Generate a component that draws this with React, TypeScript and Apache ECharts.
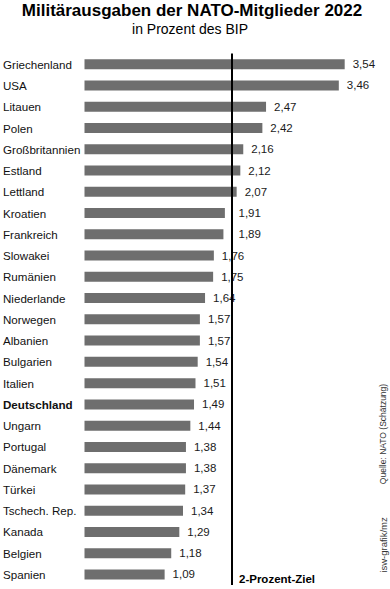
import React, { useEffect, useRef } from "react";
import * as echarts from "echarts";

const countries = [
  "Griechenland", "USA", "Litauen", "Polen", "Großbritannien", "Estland", "Lettland",
  "Kroatien", "Frankreich", "Slowakei", "Rumänien", "Niederlande", "Norwegen", "Albanien",
  "Bulgarien", "Italien", "Deutschland", "Ungarn", "Portugal", "Dänemark", "Türkei",
  "Tschech. Rep.", "Kanada", "Belgien", "Spanien",
];
const values = [
  3.54, 3.46, 2.47, 2.42, 2.16, 2.12, 2.07, 1.91, 1.89, 1.76, 1.75, 1.64, 1.57, 1.57,
  1.54, 1.51, 1.49, 1.44, 1.38, 1.38, 1.37, 1.34, 1.29, 1.18, 1.09,
];
const highlighted = "Deutschland";
const targetValue = 2;
const titleText = "Militärausgaben der NATO-Mitglieder 2022";
const subtitleText = "in Prozent des BIP";
const targetLabel = "2-Prozent-Ziel";
const sourceText = "Quelle: NATO (Schätzung)";
const creditText = "isw-grafik/mz";

const FONT = "Liberation Sans, Arial, sans-serif";
const GRID_LEFT = 83.5;
const GRID_RIGHT = 11.5;
const X_MAX = 4;
const PX_PER_UNIT = (390 - GRID_LEFT - GRID_RIGHT) / X_MAX;

export default function App() {
  const ref = useRef<HTMLDivElement>(null);
  useEffect(() => {
    if (!ref.current) return;
    const chart = echarts.init(ref.current, undefined, { renderer: "svg" });
    // labels just below the target line are pushed past it, as in the original
    const barData = values.map((v) => {
      if (v > 1.85 && v < targetValue) {
        return { value: v, label: { distance: (targetValue - v) * PX_PER_UNIT + 7 } };
      }
      return v;
    });
    chart.setOption({
      animation: false,
      backgroundColor: "#ffffff",
      textStyle: { fontFamily: FONT },
      grid: { left: GRID_LEFT, right: GRID_RIGHT, top: 53.6, bottom: 3.9, containLabel: false },
      xAxis: {
        type: "value",
        min: 0,
        max: X_MAX,
        show: false,
      },
      yAxis: {
        type: "category",
        inverse: true,
        data: countries,
        axisLine: { show: false },
        axisTick: { show: false },
        splitLine: { show: false },
        axisLabel: {
          align: "left",
          margin: 81.5,
          fontSize: 11.6,
          color: "#111",
          fontFamily: FONT,
          formatter: (v: string) => (v === highlighted ? `{b|${v}}` : v),
          rich: {
            b: { fontWeight: "bold", fontSize: 11.6, color: "#111", fontFamily: FONT },
          },
        },
      },
      series: [
        {
          type: "bar",
          data: barData,
          barWidth: 10,
          itemStyle: { color: "#6e6e6e" },
          label: {
            show: true,
            position: "right",
            distance: 8,
            fontSize: 11.5,
            color: "#1a1a1a",
            fontFamily: FONT,
            formatter: (p: any) => Number(p.value).toFixed(2).replace(".", ","),
          },
          markLine: {
            silent: true,
            symbol: "none",
            label: { show: false },
            lineStyle: { color: "#000", width: 2, type: "solid" },
            data: [{ xAxis: targetValue }],
          },
        },
      ],
      graphic: [
        {
          type: "text",
          x: 192,
          y: 10,
          style: {
            text: titleText,
            fontSize: 17,
            fontWeight: "bold",
            fontFamily: FONT,
            fill: "#000",
            textAlign: "center",
            textVerticalAlign: "middle",
          },
        },
        {
          type: "text",
          x: 190,
          y: 28.5,
          style: {
            text: subtitleText,
            fontSize: 14,
            fontFamily: FONT,
            fill: "#000",
            textAlign: "center",
            textVerticalAlign: "middle",
          },
        },
        {
          type: "text",
          x: 239,
          y: 579,
          style: {
            text: targetLabel,
            fontSize: 11.5,
            fontWeight: "bold",
            fontFamily: FONT,
            fill: "#000",
            textAlign: "left",
            textVerticalAlign: "middle",
          },
        },
        {
          type: "text",
          x: 383,
          y: 434,
          rotation: Math.PI / 2,
          style: {
            text: sourceText,
            fontSize: 8.5,
            fontFamily: FONT,
            fill: "#333",
            textAlign: "center",
            textVerticalAlign: "middle",
          },
        },
        {
          type: "text",
          x: 383,
          y: 545,
          rotation: Math.PI / 2,
          style: {
            text: creditText,
            fontSize: 9.5,
            fontFamily: FONT,
            fill: "#333",
            textAlign: "center",
            textVerticalAlign: "middle",
          },
        },
      ],
    });
    return () => chart.dispose();
  }, []);
  return (
    <div
      ref={ref}
      style={{ position: "fixed", left: 0, top: 0, width: 390, height: 589, background: "#fff" }}
    />
  );
}
